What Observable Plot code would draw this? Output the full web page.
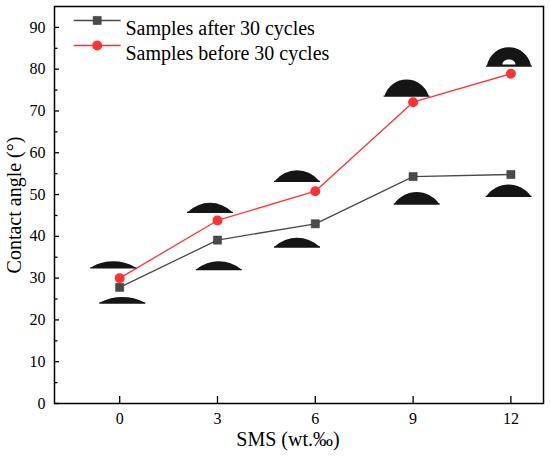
<!DOCTYPE html>
<html><head><meta charset="utf-8">
<script src="https://cdn.jsdelivr.net/npm/d3@7"></script>
<script src="https://cdn.jsdelivr.net/npm/@observablehq/plot@0.6"></script>
<style>
body{margin:0;background:#fff}
#chart{width:550px;height:457px}
#chart svg, #chart svg text {font-family: "Liberation Serif", "Times New Roman", serif !important;}
</style>
</head><body><div id="chart"></div>
<script>
// ---- data ----
const sms = [0, 3, 6, 9, 12];
const afterCycles = [27.8, 39.1, 43.0, 54.3, 54.8];
const beforeCycles = [30.0, 43.8, 50.8, 72.1, 78.9];
const xTicks = [0, 3, 6, 9, 12];
const yTicks = [0, 10, 20, 30, 40, 50, 60, 70, 80, 90];
const yMinorTicks = [5, 15, 25, 35, 45, 55, 65, 75, 85];
const seriesNames = ["Samples after 30 cycles", "Samples before 30 cycles"];
// droplet photo anchors (baseline centre, in data units)
const dropXBefore = [-0.2, 2.77, 5.44, 8.8, 11.94];
const dropYBefore = [32.6, 45.9, 53.3, 73.7, 80.9];
const dropXAfter = [0.08, 3.04, 5.44, 9.11, 11.93];
const dropYAfter = [24.2, 32.2, 37.6, 47.9, 49.7];

// ---- symbols ----
function capSymbol(angle, w) {
  return {draw(ctx) {
    const r = w / 2;
    const h = r * Math.tan(angle * Math.PI / 360);
    const R = (r * r + h * h) / (2 * h);
    const cy = R - h;
    const a1 = Math.atan2(-cy, -r), a2 = Math.atan2(-cy, r);
    ctx.moveTo(-r, 0);
    ctx.arc(0, cy, R, a1, a2, false);
    ctx.closePath();
    ctx.moveTo(-r - 1, 0); ctx.lineTo(r + 1, 0); ctx.lineTo(r + 1, 1.3); ctx.lineTo(-r - 1, 1.3); ctx.closePath();
  }};
}
function highlightSymbol(w, h) {
  return {draw(ctx) {
    const r = w / 2;
    ctx.moveTo(-r, -1);
    ctx.bezierCurveTo(-r, -1 - h * 1.3, r, -1 - h * 1.3, r, -1);
    ctx.closePath();
  }};
}
function hline(half) {
  return {draw(ctx) { ctx.moveTo(-half, 0); ctx.lineTo(half, 0); }};
}

const idx = d3.range(sms.length);
const gray = "#4a4a4a", red = "#ff3333";
const font = "'Liberation Serif', 'Times New Roman', serif";

const dropMarks = [];
idx.forEach(i => {
  dropMarks.push(Plot.dot([i], {x: j => dropXBefore[j], y: j => dropYBefore[j], symbol: capSymbol(beforeCycles[i], 44), fill: "#151515", stroke: "none"}));
  dropMarks.push(Plot.dot([i], {x: j => dropXAfter[j], y: j => dropYAfter[j], symbol: capSymbol(afterCycles[i], 44), fill: "#151515", stroke: "none"}));
});
dropMarks.push(Plot.dot([4], {x: j => dropXBefore[j], y: j => dropYBefore[j], symbol: highlightSymbol(13, 5), fill: "#fff", stroke: "none"}));

const chart = Plot.plot({
  width: 550, height: 457,
  marginLeft: 54, marginRight: 7, marginTop: 6, marginBottom: 54,
  x: {domain: [-2, 13]},
  y: {domain: [0, 95]},
  style: {fontFamily: font, fontSize: "16px", color: "#000", background: "#fff"},
  marks: [
    Plot.line(idx, {x: i => sms[i], y: i => afterCycles[i], stroke: gray, strokeWidth: 1.3}),
    Plot.line(idx, {x: i => sms[i], y: i => beforeCycles[i], stroke: red, strokeWidth: 1.3}),
    ...dropMarks,
    Plot.dot(idx, {x: i => sms[i], y: i => afterCycles[i], symbol: "square", r: 4.6, fill: gray, stroke: "#333", strokeWidth: 0.5}),
    Plot.dot(idx, {x: i => sms[i], y: i => beforeCycles[i], symbol: "circle", r: 5, fill: red, stroke: "none"}),
    Plot.axisY({ticks: yTicks, tickSize: -5, tickPadding: 14, fontSize: 16, fontFamily: font, label: null, stroke: "#000", strokeWidth: 1.3}),
    Plot.axisY({ticks: yMinorTicks, tickSize: -3.5, tickFormat: () => "", label: null, stroke: "#000", strokeWidth: 1.3}),
    Plot.axisX({ticks: xTicks, tickSize: -7, tickPadding: 16, fontSize: 16, fontFamily: font, label: null, stroke: "#000", strokeWidth: 1.3}),
    Plot.frame({stroke: "#000", strokeWidth: 1.5}),
    // legend
    Plot.dot([0], {x: null, y: null, frameAnchor: "top-left", dx: 42.7, dy: 14, symbol: hline(23.5), fill: "none", stroke: gray, strokeWidth: 1.3}),
    Plot.dot([0], {x: null, y: null, frameAnchor: "top-left", dx: 42.7, dy: 14, symbol: "square", r: 4.6, fill: gray, stroke: "#333", strokeWidth: 0.5}),
    Plot.dot([0], {x: null, y: null, frameAnchor: "top-left", dx: 42.7, dy: 39, symbol: hline(23.5), fill: "none", stroke: red, strokeWidth: 1.3}),
    Plot.dot([0], {x: null, y: null, frameAnchor: "top-left", dx: 42.7, dy: 39, symbol: "circle", r: 5, fill: red, stroke: "none"}),
    Plot.text([seriesNames[0]], {x: null, y: null, text: d => d, frameAnchor: "top-left", dx: 71, dy: 14, textAnchor: "start", fontSize: 20, fontFamily: font, fill: "#000"}),
    Plot.text([seriesNames[1]], {x: null, y: null, text: d => d, frameAnchor: "top-left", dx: 71, dy: 39, textAnchor: "start", fontSize: 20, fontFamily: font, fill: "#000"}),
    // axis titles
    Plot.text(["SMS (wt.‰)"], {x: null, y: null, text: d => d, frameAnchor: "bottom", textAnchor: "middle", dx: -11, dy: 42, fontSize: 20, fontFamily: font, fill: "#000"}),
    Plot.text(["Contact angle (°)"], {x: null, y: null, text: d => d, frameAnchor: "left", textAnchor: "middle", dx: -40, rotate: -90, fontSize: 20, fontFamily: font, fill: "#000"})
  ]
});
document.getElementById("chart").appendChild(chart);
</script>
</body></html>
